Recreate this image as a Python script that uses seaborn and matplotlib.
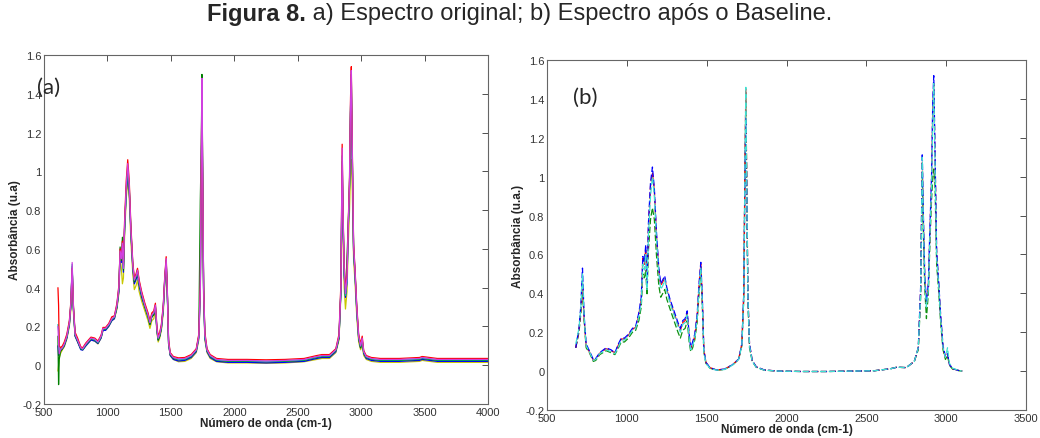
import numpy as np
import pandas as pd
import matplotlib
matplotlib.use("Agg")
import matplotlib.pyplot as plt
import seaborn as sns

# ---------------- data: panel (a) original spectra ----------------
wn_a = [610, 615, 620, 630, 645, 660, 680, 700, 712, 722,
        732, 745, 765, 790, 805, 830, 870, 900, 925, 950,
        965, 985, 1010, 1035, 1055, 1075, 1090, 1100, 1110, 1118,
        1126, 1135, 1148, 1160, 1172, 1185, 1200, 1212, 1225, 1237,
        1250, 1270, 1295, 1320, 1335, 1350, 1365, 1378, 1390, 1400,
        1412, 1425, 1440, 1452, 1463, 1472, 1482, 1495, 1520, 1560,
        1610, 1660, 1700, 1720, 1732, 1740, 1745, 1750, 1758, 1768,
        1785, 1810, 1860, 1950, 2100, 2250, 2400, 2550, 2650, 2690,
        2750, 2800, 2825, 2840, 2850, 2858, 2866, 2876, 2888, 2898,
        2908, 2916, 2922, 2930, 2940, 2952, 2965, 2980, 2995, 3008,
        3020, 3040, 3080, 3150, 3300, 3460, 3480, 3600, 3800, 4000]

a_yellow = [-0.03, 0.0, 0.04, 0.06, 0.08, 0.095, 0.135, 0.20, 0.29, 0.45,
            0.27, 0.15, 0.12, 0.085, 0.08, 0.10, 0.13, 0.125, 0.11, 0.14,
            0.18, 0.18, 0.20, 0.23, 0.24, 0.29, 0.37, 0.55, 0.50, 0.42,
            0.45, 0.66, 0.86, 0.95, 0.86, 0.64, 0.47, 0.39, 0.41, 0.44,
            0.38, 0.33, 0.28, 0.23, 0.19, 0.23, 0.24, 0.28, 0.17, 0.12,
            0.14, 0.18, 0.27, 0.42, 0.51, 0.36, 0.11, 0.05, 0.03, 0.018,
            0.02, 0.035, 0.065, 0.13, 0.36, 0.95, 1.25, 0.95, 0.36, 0.13,
            0.065, 0.035, 0.018, 0.012, 0.012, 0.01, 0.012, 0.018, 0.03, 0.035,
            0.035, 0.065, 0.13, 0.36, 0.95, 0.62, 0.40, 0.29, 0.38, 0.62,
            0.80, 1.00, 1.06, 0.90, 0.55, 0.42, 0.25, 0.12, 0.08, 0.10,
            0.05, 0.03, 0.02, 0.015, 0.015, 0.02, 0.025, 0.015, 0.015, 0.015]

a_blue = [0.10, 0.05, 0.07, 0.075, 0.085, 0.10, 0.14, 0.21, 0.31, 0.50,
          0.29, 0.15, 0.12, 0.08, 0.078, 0.10, 0.13, 0.125, 0.112, 0.14,
          0.18, 0.18, 0.20, 0.23, 0.24, 0.30, 0.38, 0.57, 0.53, 0.60,
          0.48, 0.70, 0.89, 0.98, 0.90, 0.68, 0.50, 0.42, 0.44, 0.47,
          0.41, 0.35, 0.30, 0.25, 0.21, 0.25, 0.26, 0.30, 0.18, 0.13,
          0.15, 0.19, 0.29, 0.44, 0.53, 0.37, 0.11, 0.05, 0.03, 0.022,
          0.025, 0.04, 0.07, 0.14, 0.38, 1.00, 1.30, 0.98, 0.37, 0.14,
          0.07, 0.04, 0.02, 0.015, 0.015, 0.012, 0.015, 0.02, 0.035, 0.04,
          0.04, 0.07, 0.14, 0.38, 1.00, 0.70, 0.47, 0.35, 0.43, 0.70,
          0.92, 1.30, 1.42, 1.05, 0.59, 0.46, 0.28, 0.14, 0.09, 0.12,
          0.06, 0.035, 0.025, 0.02, 0.02, 0.025, 0.03, 0.02, 0.02, 0.02]

a_green = [0.15, -0.10, 0.03, 0.07, 0.085, 0.105, 0.145, 0.215, 0.31, 0.51,
           0.29, 0.155, 0.125, 0.085, 0.08, 0.105, 0.135, 0.13, 0.115, 0.145,
           0.185, 0.185, 0.205, 0.235, 0.245, 0.30, 0.39, 0.61, 0.54, 0.66,
           0.49, 0.70, 0.90, 1.01, 0.91, 0.69, 0.51, 0.43, 0.45, 0.48,
           0.42, 0.36, 0.30, 0.25, 0.21, 0.25, 0.26, 0.30, 0.18, 0.13,
           0.15, 0.19, 0.29, 0.44, 0.54, 0.37, 0.11, 0.055, 0.035, 0.028,
           0.03, 0.045, 0.075, 0.15, 0.85, 1.15, 1.50, 1.06, 0.39, 0.15,
           0.075, 0.045, 0.025, 0.02, 0.02, 0.018, 0.02, 0.025, 0.04, 0.045,
           0.045, 0.075, 0.14, 0.38, 1.05, 0.73, 0.48, 0.36, 0.55, 0.73,
           0.93, 1.32, 1.50, 1.08, 0.60, 0.47, 0.29, 0.14, 0.09, 0.13,
           0.065, 0.04, 0.03, 0.025, 0.025, 0.03, 0.035, 0.025, 0.025, 0.025]

a_cyan = [0.21, 0.18, 0.08, 0.085, 0.09, 0.11, 0.15, 0.22, 0.32, 0.52,
          0.30, 0.16, 0.13, 0.09, 0.083, 0.108, 0.138, 0.132, 0.118, 0.148,
          0.188, 0.188, 0.208, 0.238, 0.248, 0.31, 0.40, 0.58, 0.55, 0.62,
          0.50, 0.71, 0.91, 1.02, 0.92, 0.70, 0.52, 0.44, 0.46, 0.49,
          0.43, 0.37, 0.31, 0.26, 0.22, 0.26, 0.27, 0.31, 0.19, 0.14,
          0.16, 0.20, 0.30, 0.45, 0.54, 0.38, 0.12, 0.06, 0.04, 0.03,
          0.032, 0.048, 0.078, 0.15, 0.40, 1.05, 1.40, 1.02, 0.39, 0.15,
          0.078, 0.048, 0.028, 0.023, 0.023, 0.02, 0.023, 0.028, 0.043, 0.048,
          0.048, 0.078, 0.15, 0.39, 1.08, 0.74, 0.49, 0.36, 0.44, 0.71,
          0.93, 1.33, 1.48, 1.08, 0.61, 0.47, 0.29, 0.15, 0.10, 0.13,
          0.068, 0.043, 0.033, 0.028, 0.028, 0.033, 0.038, 0.028, 0.028, 0.028]

a_red = [0.40, 0.31, 0.10, 0.09, 0.10, 0.12, 0.16, 0.23, 0.33, 0.50,
         0.31, 0.17, 0.14, 0.095, 0.09, 0.115, 0.145, 0.14, 0.125, 0.155,
         0.195, 0.195, 0.215, 0.25, 0.255, 0.32, 0.41, 0.60, 0.56, 0.64,
         0.52, 0.74, 0.95, 1.06, 0.95, 0.72, 0.53, 0.45, 0.47, 0.50,
         0.44, 0.38, 0.32, 0.27, 0.23, 0.27, 0.28, 0.32, 0.20, 0.15,
         0.17, 0.21, 0.31, 0.46, 0.56, 0.39, 0.13, 0.065, 0.045, 0.038,
         0.04, 0.055, 0.085, 0.16, 0.42, 1.08, 1.45, 1.02, 0.41, 0.17,
         0.085, 0.055, 0.035, 0.03, 0.03, 0.028, 0.03, 0.035, 0.05, 0.055,
         0.055, 0.085, 0.16, 0.42, 1.14, 0.76, 0.52, 0.39, 0.47, 0.74,
         0.97, 1.38, 1.54, 1.12, 0.63, 0.49, 0.31, 0.16, 0.11, 0.15,
         0.075, 0.05, 0.04, 0.035, 0.035, 0.04, 0.045, 0.035, 0.035, 0.035]

a_magenta = [0.20, 0.12, 0.06, 0.08, 0.09, 0.11, 0.15, 0.22, 0.32, 0.53,
             0.30, 0.16, 0.13, 0.09, 0.085, 0.11, 0.14, 0.135, 0.12, 0.15,
             0.19, 0.19, 0.21, 0.24, 0.25, 0.31, 0.40, 0.59, 0.55, 0.63,
             0.50, 0.72, 0.92, 1.04, 0.93, 0.70, 0.52, 0.44, 0.46, 0.49,
             0.43, 0.37, 0.31, 0.26, 0.22, 0.26, 0.27, 0.31, 0.19, 0.14,
             0.16, 0.20, 0.30, 0.45, 0.55, 0.38, 0.12, 0.06, 0.04, 0.033,
             0.035, 0.05, 0.08, 0.15, 0.40, 1.10, 1.48, 1.05, 0.40, 0.16,
             0.08, 0.05, 0.03, 0.025, 0.025, 0.022, 0.025, 0.03, 0.045, 0.05,
             0.05, 0.08, 0.15, 0.40, 1.12, 0.75, 0.50, 0.37, 0.45, 0.72,
             0.95, 1.35, 1.52, 1.10, 0.62, 0.48, 0.30, 0.15, 0.10, 0.14,
             0.07, 0.045, 0.035, 0.03, 0.03, 0.035, 0.04, 0.03, 0.03, 0.03]

# ---------------- data: panel (b) after baseline ----------------
wn_b = [680, 700, 712, 722, 732, 745, 765, 790, 805, 830,
        870, 900, 925, 950, 965, 985, 1010, 1035, 1055, 1075,
        1090, 1100, 1110, 1118, 1126, 1135, 1148, 1160, 1172, 1185,
        1200, 1212, 1225, 1237, 1250, 1270, 1295, 1320, 1335, 1350,
        1365, 1378, 1390, 1400, 1412, 1425, 1440, 1452, 1463, 1472,
        1482, 1495, 1520, 1560, 1610, 1660, 1700, 1720, 1732, 1740,
        1745, 1750, 1758, 1768, 1785, 1810, 1860, 1950, 2100, 2250,
        2400, 2550, 2650, 2690, 2750, 2800, 2825, 2840, 2850, 2858,
        2866, 2876, 2888, 2898, 2908, 2916, 2922, 2930, 2940, 2952,
        2965, 2980, 2995, 3008, 3020, 3040, 3080, 3100]

b_green = [0.12, 0.20, 0.30, 0.42, 0.26, 0.12, 0.095, 0.05, 0.055, 0.085,
           0.105, 0.095, 0.085, 0.125, 0.15, 0.15, 0.17, 0.20, 0.21, 0.26,
           0.33, 0.50, 0.48, 0.52, 0.39, 0.62, 0.78, 0.84, 0.78, 0.60,
           0.44, 0.38, 0.40, 0.42, 0.37, 0.32, 0.26, 0.20, 0.17, 0.21,
           0.22, 0.26, 0.15, 0.10, 0.12, 0.16, 0.25, 0.40, 0.51, 0.35,
           0.10, 0.04, 0.015, 0.005, 0.008, 0.03, 0.06, 0.13, 0.37, 1.05,
           1.40, 1.00, 0.36, 0.12, 0.05, 0.02, 0.005, 0.0, -0.002, -0.002,
           0.0, 0.002, 0.012, 0.02, 0.018, 0.05, 0.11, 0.38, 1.00, 0.68,
           0.42, 0.27, 0.40, 0.66, 0.88, 1.00, 1.04, 0.95, 0.55, 0.42,
           0.25, 0.11, 0.06, 0.08, 0.03, 0.01, 0.002, 0.0]

b_red = [0.12, 0.21, 0.32, 0.45, 0.27, 0.13, 0.10, 0.055, 0.062, 0.092,
         0.115, 0.105, 0.095, 0.14, 0.165, 0.165, 0.185, 0.215, 0.225, 0.29,
         0.37, 0.58, 0.55, 0.63, 0.44, 0.74, 0.95, 1.02, 0.93, 0.70,
         0.52, 0.44, 0.46, 0.48, 0.42, 0.36, 0.30, 0.24, 0.21, 0.25,
         0.26, 0.30, 0.18, 0.12, 0.14, 0.18, 0.28, 0.44, 0.55, 0.38,
         0.11, 0.045, 0.018, 0.006, 0.01, 0.032, 0.062, 0.14, 0.40, 1.10,
         1.45, 1.05, 0.40, 0.14, 0.055, 0.022, 0.006, 0.0, -0.002, -0.002,
         0.0, 0.002, 0.012, 0.02, 0.018, 0.05, 0.12, 0.42, 1.08, 0.74,
         0.47, 0.35, 0.44, 0.72, 0.98, 1.36, 1.48, 1.10, 0.60, 0.46,
         0.28, 0.12, 0.07, 0.09, 0.035, 0.012, 0.003, 0.0]

b_blue = [0.12, 0.22, 0.34, 0.53, 0.29, 0.14, 0.105, 0.06, 0.065, 0.095,
          0.12, 0.11, 0.095, 0.145, 0.17, 0.17, 0.19, 0.22, 0.23, 0.30,
          0.38, 0.59, 0.56, 0.65, 0.45, 0.76, 0.97, 1.05, 0.94, 0.72,
          0.53, 0.45, 0.47, 0.49, 0.43, 0.37, 0.31, 0.25, 0.22, 0.26,
          0.27, 0.31, 0.19, 0.12, 0.15, 0.19, 0.29, 0.45, 0.56, 0.39,
          0.11, 0.045, 0.018, 0.006, 0.01, 0.032, 0.062, 0.14, 0.40, 1.06,
          1.30, 1.00, 0.39, 0.14, 0.055, 0.022, 0.006, 0.0, -0.002, -0.002,
          0.0, 0.002, 0.012, 0.02, 0.018, 0.05, 0.12, 0.44, 1.12, 0.76,
          0.48, 0.36, 0.45, 0.74, 1.00, 1.40, 1.52, 1.12, 0.62, 0.47,
          0.29, 0.13, 0.075, 0.09, 0.035, 0.012, 0.003, 0.0]

b_cyan = [0.14, 0.22, 0.33, 0.50, 0.28, 0.13, 0.10, 0.055, 0.06, 0.09,
          0.11, 0.10, 0.09, 0.13, 0.16, 0.16, 0.18, 0.21, 0.22, 0.28,
          0.35, 0.55, 0.52, 0.60, 0.42, 0.70, 0.90, 1.00, 0.90, 0.68,
          0.50, 0.42, 0.44, 0.47, 0.41, 0.35, 0.29, 0.23, 0.20, 0.24,
          0.25, 0.29, 0.17, 0.11, 0.13, 0.17, 0.27, 0.42, 0.53, 0.36,
          0.10, 0.04, 0.015, 0.005, 0.008, 0.03, 0.06, 0.13, 0.38, 1.08,
          1.46, 1.02, 0.38, 0.13, 0.05, 0.02, 0.005, 0.0, -0.002, -0.002,
          0.0, 0.002, 0.012, 0.02, 0.018, 0.05, 0.12, 0.40, 1.10, 0.72,
          0.45, 0.33, 0.42, 0.70, 0.95, 1.30, 1.48, 1.05, 0.58, 0.45,
          0.27, 0.12, 0.07, 0.12, 0.04, 0.015, 0.003, 0.0]

series_a = {"y": a_yellow, "b": a_blue, "g": a_green, "c": a_cyan,
            "r": a_red, "m": a_magenta}
colors_a = {"y": "#c8c800", "b": "#0000ff", "g": "#008000", "c": "#00bfbf",
            "r": "#ff0000", "m": "#d040e0"}
series_b = {"g": b_green, "r": b_red, "b": b_blue, "c": b_cyan}
colors_b = {"g": "#109010", "r": "#ff0000", "b": "#0000ff", "c": "#40e0d0"}

xticks_a = [500, 1000, 1500, 2000, 2500, 3000, 3500, 4000]
xticks_b = [500, 1000, 1500, 2000, 2500, 3000, 3500]
yticks = [-0.2, 0, 0.2, 0.4, 0.6, 0.8, 1.0, 1.2, 1.4, 1.6]
ytick_labels = ["-0.2", "0", "0.2", "0.4", "0.6", "0.8", "1", "1.2", "1.4", "1.6"]

title_bold = "Figura 8."
title_rest = " a) Espectro original; b) Espectro após o Baseline."
xlabel = "Número de onda (cm-1)"
ylabel_a = "Absorbância (u.a)"
ylabel_b = "Absorbância (u.a.)"

# ---------------- figure ----------------
sns.set_style("white")
plt.rcParams["font.family"] = ["Liberation Sans", "DejaVu Sans"]

fig = plt.figure(figsize=(10.4, 4.39), dpi=100)
ax1 = fig.add_axes([0.0423, 0.0774, 0.4270, 0.7950])
ax2 = fig.add_axes([0.5260, 0.0638, 0.4606, 0.7970])


def long_frame(wn, series):
    parts = [pd.DataFrame({"wn": wn, "absb": vals, "serie": key})
             for key, vals in series.items()]
    return pd.concat(parts, ignore_index=True)


df_a = long_frame(wn_a, series_a)
df_b = long_frame(wn_b, series_b)

sns.lineplot(data=df_a, x="wn", y="absb", hue="serie",
             hue_order=list(series_a.keys()), palette=colors_a,
             estimator=None, sort=False, legend=False, lw=0.9, ax=ax1)
sns.lineplot(data=df_b, x="wn", y="absb", hue="serie",
             hue_order=list(series_b.keys()), palette=colors_b,
             estimator=None, sort=False, legend=False, lw=0.9,
             linestyle=(0, (5, 2)), ax=ax2)

for ax, xt, xl, yl in [(ax1, xticks_a, (500, 4000), ylabel_a),
                       (ax2, xticks_b, (500, 3500), ylabel_b)]:
    ax.set_xlim(*xl)
    ax.set_ylim(-0.2, 1.6)
    ax.set_xticks(xt)
    ax.set_xticklabels([str(v) for v in xt])
    ax.set_yticks(yticks)
    ax.set_yticklabels(ytick_labels)
    ax.tick_params(direction="in", top=True, right=True, length=4,
                   width=0.6, labelsize=8, colors="#333333", pad=2)
    for s in ax.spines.values():
        s.set_visible(True)
        s.set_color("#666666")
        s.set_linewidth(0.8)
    ax.set_xlabel(xlabel, fontsize=8.5, fontweight="bold", labelpad=0)
    ax.set_ylabel(yl, fontsize=8.5, fontweight="bold", labelpad=1)
    ax.grid(False)

ax1.text(-0.016, 0.908, "(a)", transform=ax1.transAxes, fontsize=16,
         family=["Lato", "DejaVu Sans"], va="center", ha="left")
ax2.text(0.054, 0.894, "(b)", transform=ax2.transAxes, fontsize=16,
         family=["Lato", "DejaVu Sans"], va="center", ha="left")

# title: bold part + regular part, centred as a whole
tfam = ["Liberation Sans", "DejaVu Sans"]
t1 = fig.text(0, 0.968, title_bold, fontsize=17, fontweight="bold",
              family=tfam, va="center", ha="left")
t2 = fig.text(0, 0.968, title_rest, fontsize=17, family=tfam,
              va="center", ha="left")
fig.canvas.draw()
r = fig.canvas.get_renderer()
w1 = t1.get_window_extent(r).width / fig.bbox.width
w2 = t2.get_window_extent(r).width / fig.bbox.width
x0 = 0.5 - (w1 + w2) / 2
t1.set_x(x0)
t2.set_x(x0 + w1)

fig.savefig("out.png", dpi=100)
